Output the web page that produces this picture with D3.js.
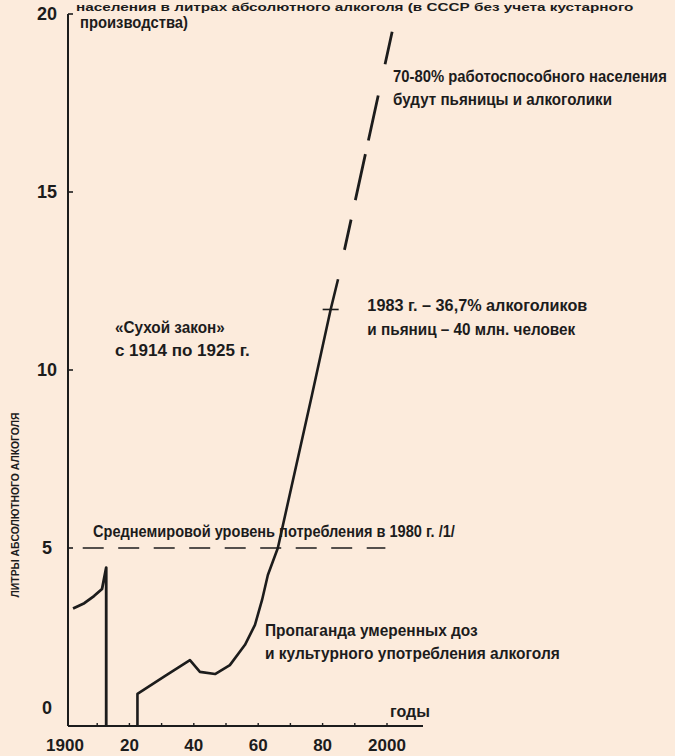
<!DOCTYPE html>
<html><head><meta charset="utf-8">
<script src="https://cdn.jsdelivr.net/npm/d3@7"></script>
<style>
html,body{margin:0;padding:0;background:#fcebdc;}
svg{display:block;}
.cond{font-family:'Liberation Sans',Arial,sans-serif;font-weight:bold;fill:#1c1c1c;}
.tick{font-family:'Liberation Sans',Arial,sans-serif;font-weight:bold;fill:#1c1c1c;}
</style></head>
<body>
<svg id="c" width="675" height="756"></svg>
<script>
// ---- data ----
const xTickValues = [1900, 1920, 1940, 1960, 1980, 2000];
const xTickLabels = ["1900", "20", "40", "60", "80", "2000"];
const xMinorTicks = [1910, 1920, 1930, 1940, 1950, 1960, 1970, 1980, 1990, 2000];
const yTickValues = [0, 5, 10, 15, 20];
const yTickLabels = ["0", "5", "10", "15", "20"];

const preWarYears  = [1902.5, 1906, 1909, 1911.5, 1912.8, 1912.8];
const preWarValues = [3.3, 3.45, 3.65, 3.85, 4.45, 0];

const sovietYears  = [1922.5, 1922.5, 1931, 1938.8, 1941.9, 1946.6, 1951.2, 1955.9, 1959, 1961.2, 1963, 1966.1, 1976.7, 1982.5, 1984.8];
const sovietValues = [0, 0.9, 1.4, 1.85, 1.52, 1.46, 1.71, 2.28, 2.84, 3.54, 4.24, 5.0, 9.3, 11.7, 12.55];

const forecastYears  = [1984.8, 2001.6];
const forecastValues = [12.55, 19.5];

const worldYears  = [1905.5, 1999.5];
const worldValues = [5, 5];

const markYear = 1982.5, markValue = 11.7;

const titleLines = ["населения в литрах абсолютного алкоголя (в СССР без учета кустарного", "производства)"];
const yTitle = "ЛИТРЫ АБСОЛЮТНОГО АЛКОГОЛЯ";
const xTitle = "годы";
const noteTexts = [
  ["70-80% работоспособного населения", "будут пьяницы и алкоголики"],
  ["1983 г. – 36,7% алкоголиков", "и пьяниц – 40 млн. человек"],
  ["«Сухой закон»", "с 1914 по 1925 г."],
  ["Среднемировой уровень потребления в 1980 г. /1/"],
  ["Пропаганда умеренных доз", "и культурного употребления алкоголя"]
];
const noteYears  = [2001.9, 1993.9, 1915.5, 1908.7, 1962.1];
const noteValues = [18.09, 11.65, 11.05, 5.31, 2.53];

// ---- layout (styling only) ----
const noteWidths = [[274, 219], [220, 208], [110, 135], [362], [213, 295]];
const noteGaps = [23, 24, 23, 0, 23];

// ---- chart ----
const svg = d3.select("#c");
const x = d3.scaleLinear().domain([1900, 2000]).range([65, 387]);
const y = d3.scaleLinear().domain([0, 20]).range([726, 14]);
const axisX = 68;
const ink = "#1c1c1c";

// condensed text: measure natural width, then squeeze horizontally with a transform
function condText(str, px, py, w, size, opts = {}) {
  const t = svg.append("text").attr("class", "cond").attr("font-size", size)
    .attr("text-anchor", opts.anchor || "start").text(str);
  const nat = t.node().getComputedTextLength();
  const sx = w / nat;
  t.attr("transform", `translate(${px},${py})` + (opts.rotate ? ` rotate(${opts.rotate})` : "") + ` scale(${sx},1)`);
  return t;
}

// y axis
svg.append("line").attr("x1", axisX).attr("x2", axisX).attr("y1", y(20)).attr("y2", y(0))
  .attr("stroke", ink).attr("stroke-width", 2);
svg.selectAll(".ytk").data(yTickValues.slice(1)).join("line")
  .attr("x1", axisX).attr("x2", axisX + 5).attr("y1", d => y(d)).attr("y2", d => y(d))
  .attr("stroke", ink).attr("stroke-width", 1.6);
svg.selectAll(".ylab").data(yTickValues).join("text").attr("class", "tick")
  .attr("x", 47).attr("y", d => d === 0 ? y(0) - 18 : y(d))
  .attr("dy", "0.36em").attr("text-anchor", "middle").attr("font-size", 18)
  .text((d, i) => yTickLabels[i]);

// x axis
svg.append("line").attr("x1", axisX).attr("x2", 423).attr("y1", y(0)).attr("y2", y(0))
  .attr("stroke", ink).attr("stroke-width", 2);
svg.selectAll(".xtk").data(xMinorTicks).join("line")
  .attr("x1", d => x(d)).attr("x2", d => x(d)).attr("y1", y(0)).attr("y2", y(0) - 3)
  .attr("stroke", ink).attr("stroke-width", 1.4);
svg.selectAll(".xlab").data(xTickValues).join("text").attr("class", "tick")
  .attr("x", d => x(d)).attr("y", 751).attr("text-anchor", "middle").attr("font-size", 17)
  .text((d, i) => xTickLabels[i]);
condText(xTitle, 390, 717, 40, 17);

// y title
condText(yTitle, 19, 505, 185, 11, {anchor: "middle", rotate: -90});

// title
condText(titleLines[0], 76, 10.5, 558, 11);
condText(titleLines[1], 80, 28, 108, 16);

const line = d3.line().x(d => x(d[0])).y(d => y(d[1]));
const zip = (a, b) => a.map((v, i) => [v, b[i]]);

// world average dashed
svg.append("path").attr("d", line(zip(worldYears, worldValues)))
  .attr("fill", "none").attr("stroke", ink).attr("stroke-width", 1.5).attr("stroke-dasharray", "21,14.5");

// series
svg.append("path").attr("d", line(zip(preWarYears, preWarValues)))
  .attr("fill", "none").attr("stroke", ink).attr("stroke-width", 2.8).attr("stroke-linejoin", "round");
svg.append("path").attr("d", line(zip(sovietYears, sovietValues)))
  .attr("fill", "none").attr("stroke", ink).attr("stroke-width", 2.6).attr("stroke-linejoin", "round");
svg.append("path").attr("d", line(zip(forecastYears, forecastValues)))
  .attr("fill", "none").attr("stroke", ink).attr("stroke-width", 2.8)
  .attr("stroke-dasharray", "0,30,31,20,47,14,46,32,36,60");

// 1983 mark
svg.append("line").attr("x1", x(markYear) - 8).attr("x2", x(markYear) + 8)
  .attr("y1", y(markValue)).attr("y2", y(markValue)).attr("stroke", ink).attr("stroke-width", 1.6);

// notes
noteTexts.forEach((lines, k) => {
  lines.forEach((l, i) => {
    condText(l, x(noteYears[k]), y(noteValues[k]) + i * noteGaps[k], noteWidths[k][i], 17);
  });
});
</script>
</body></html>
